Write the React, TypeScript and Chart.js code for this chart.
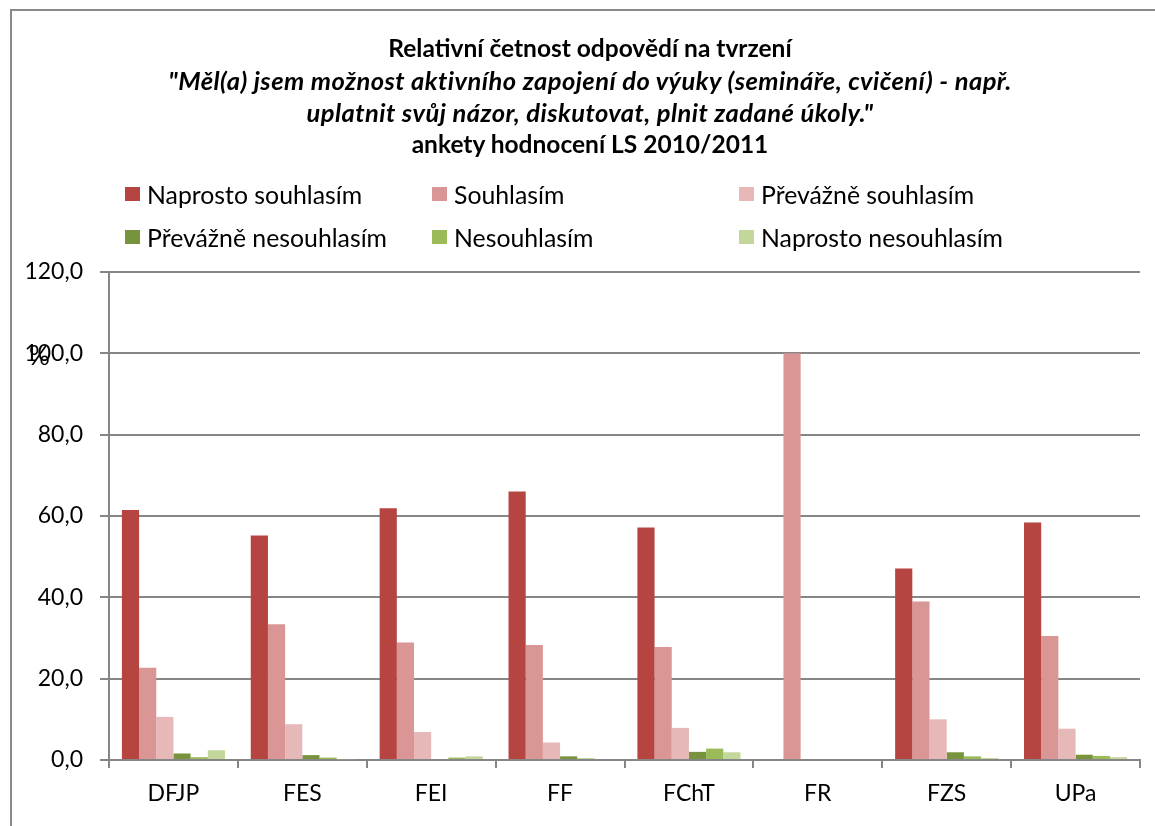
import React, { useEffect, useRef } from "react";
import { Chart, registerables } from "chart.js";

Chart.register(...registerables);

const categories = ["DFJP", "FES", "FEI", "FF", "FChT", "FR", "FZS", "UPa"];
const seriesNames = [
  "Naprosto souhlasím",
  "Souhlasím",
  "Převážně souhlasím",
  "Převážně nesouhlasím",
  "Nesouhlasím",
  "Naprosto nesouhlasím",
];
const naprostoSouhlasim = [61.5, 55.2, 61.9, 66.0, 57.2, 0, 47.1, 58.4];
const souhlasim = [22.7, 33.4, 28.9, 28.3, 27.8, 100, 39.0, 30.5];
const prevazneSouhlasim = [10.6, 8.8, 6.9, 4.3, 7.9, 0, 10.0, 7.7];
const prevazneNesouhlasim = [1.6, 1.2, 0, 0.9, 2.0, 0, 1.9, 1.3];
const nesouhlasim = [0.7, 0.6, 0.6, 0.4, 2.8, 0, 0.9, 1.0];
const naprostoNesouhlasim = [2.4, 0.2, 0.9, 0, 1.9, 0, 0.5, 0.7];
const seriesColors = ["#B64541", "#DA9694", "#E6B9B8", "#77933C", "#9BBB59", "#C4D79B"];
const yMin = 0;
const yMax = 120;
const yStep = 20;
const axisTitle = "%";
const titleLines = [
  { text: "Relativní četnost odpovědí na tvrzení", italic: false },
  { text: "\"Měl(a) jsem možnost aktivního zapojení do výuky (semináře, cvičení) - např.", italic: true },
  { text: "uplatnit svůj názor, diskutovat, plnit zadané úkoly.\"", italic: true },
  { text: "ankety hodnocení LS 2010/2011", italic: false },
];

const FONT = "Lato, 'Open Sans', sans-serif";

export default function App() {
  const canvasRef = useRef<HTMLCanvasElement | null>(null);

  useEffect(() => {
    document.body.style.margin = "0";
    const values = [
      naprostoSouhlasim,
      souhlasim,
      prevazneSouhlasim,
      prevazneNesouhlasim,
      nesouhlasim,
      naprostoNesouhlasim,
    ];
    const chart = new Chart(canvasRef.current!, {
      type: "bar",
      data: {
        labels: categories,
        datasets: seriesNames.map((name, i) => ({
          label: name,
          data: values[i],
          backgroundColor: seriesColors[i],
          borderWidth: 0,
          categoryPercentage: 0.8,
          barPercentage: 1.0,
        })),
      },
      options: {
        animation: false,
        responsive: false,
        maintainAspectRatio: false,
        layout: { padding: { top: 272, right: 15, left: 0, bottom: 0 } },
        plugins: {
          legend: { display: false },
          title: { display: false },
          tooltip: { enabled: false },
        },
        scales: {
          x: {
            afterFit: (s: any) => {
              s.height = 66;
            },
            grid: {
              offset: true,
              drawOnChartArea: false,
              drawTicks: true,
              tickLength: 8,
              color: "#868686",
              lineWidth: 2,
            },
            border: { display: true, color: "#868686", width: 2 },
            ticks: {
              color: "#000",
              font: { family: FONT, size: 23 },
              padding: 12,
            },
          },
          y: {
            min: yMin,
            max: yMax,
            afterFit: (s: any) => {
              s.width = 109;
            },
            grid: {
              color: "#868686",
              lineWidth: 2,
              drawTicks: true,
              tickLength: 9,
            },
            border: { display: true, color: "#868686", width: 2 },
            ticks: {
              stepSize: yStep,
              color: "#000",
              padding: 17,
              font: { family: FONT, size: 23 },
              callback: (v: any) => Number(v).toFixed(1).replace(".", ","),
            },
          },
        },
      },
    });
    return () => chart.destroy();
  }, []);

  const legendCols = [125, 432, 739];
  const legendRows = [194, 237];

  return (
    <div style={{ position: "relative", width: 1155, height: 826, overflow: "hidden", background: "#fff" }}>
      <div
        style={{
          position: "absolute",
          left: 10,
          top: 9,
          width: 1180,
          height: 840,
          border: "2px solid #8a8a8a",
          boxSizing: "border-box",
        }}
      />
      <canvas ref={canvasRef} width={1155} height={826} style={{ position: "absolute", left: 0, top: 0 }} />
      {titleLines.map((l, i) => (
        <div
          key={i}
          style={{
            position: "absolute",
            left: 0,
            width: 1180,
            top: 31.5 + i * 32,
            textAlign: "center",
            fontFamily: FONT,
            fontWeight: "bold",
            fontStyle: l.italic ? "italic" : "normal",
            fontSize: l.italic ? 25.5 : 24.5,
            letterSpacing: l.italic ? 0.45 : 0,
            lineHeight: "32px",
            color: "#000",
            whiteSpace: "nowrap",
          }}
        >
          {l.text}
        </div>
      ))}
      {seriesNames.map((name, i) => {
        const col = i % 3;
        const row = Math.floor(i / 3);
        return (
          <div
            key={name}
            style={{
              position: "absolute",
              left: legendCols[col],
              top: legendRows[row] - 16,
              height: 32,
              display: "flex",
              alignItems: "center",
              fontFamily: FONT,
              fontSize: 24.8,
              color: "#000",
              whiteSpace: "nowrap",
            }}
          >
            <span
              style={{
                display: "inline-block",
                width: 15,
                height: 14,
                background: seriesColors[i],
                marginRight: 7,
              }}
            />
            <span>{name}</span>
          </div>
        );
      })}
      <div
        style={{
          position: "absolute",
          left: 29,
          top: 340,
          fontFamily: FONT,
          fontSize: 26,
          lineHeight: 1.2,
          color: "#000",
        }}
      >
        {axisTitle}
      </div>
    </div>
  );
}
